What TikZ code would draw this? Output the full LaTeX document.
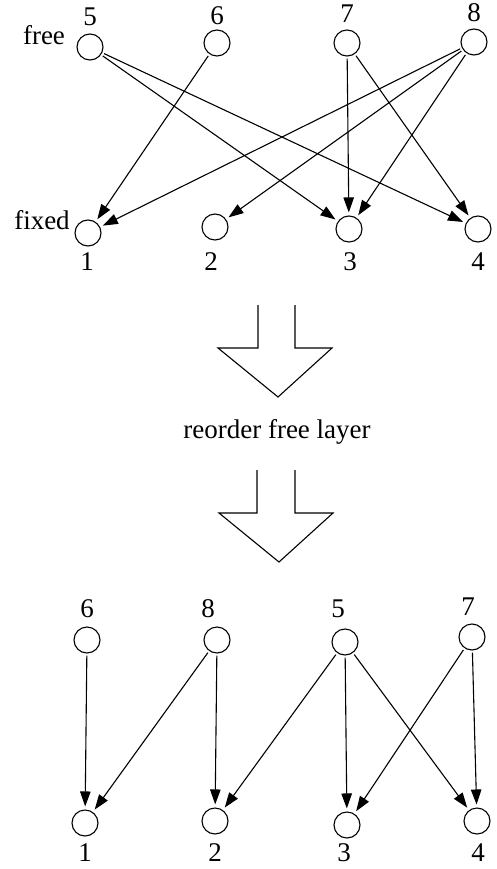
\documentclass[tikz,border=0pt]{standalone}
\usepackage{fontspec}
\setmainfont{Liberation Serif}
\usetikzlibrary{arrows.meta}
\begin{document}
\begin{tikzpicture}[x=1pt,y=-1pt,
  vtx/.style={circle,draw,line width=1.1pt,minimum size=26pt,inner sep=0pt},
  lbl/.style={anchor=base,inner sep=0pt,font=\fontsize{27}{31}\selectfont},
  edge/.style={line width=1.1pt,-{Triangle[length=15pt,width=10.5pt]},shorten <=2pt,shorten >=3pt},
  bigarrow/.style={line width=1.1pt,line join=miter}]
\useasboundingbox (0,0) rectangle (497,869);
% ---------- top graph ----------
\node[vtx] (t5) at (90,47) {};
\node[vtx] (t6) at (217,43) {};
\node[vtx] (t7) at (347,43) {};
\node[vtx] (t8) at (474,42) {};
\node[vtx] (t1) at (88,233) {};
\node[vtx] (t2) at (215,227) {};
\node[vtx] (t3) at (349,229) {};
\node[vtx] (t4) at (478,229) {};
\node[lbl] (l5) at (90,26) {5};
\node[lbl] (l6) at (217,25) {6};
\node[lbl] (l7) at (347,23) {7};
\node[lbl] (l8) at (474,22) {8};
\node[lbl] (lfree) at (44,45) {free};
\node[lbl] (lfixed) at (42,229) {fixed};
\node[lbl] (l1) at (87,270) {1};
\node[lbl] (l2) at (211,270) {2};
\node[lbl] (l3) at (350,270) {3};
\node[lbl] (l4) at (478,270) {4};
\draw[edge] (t5) -- (t3);
\draw[edge] (t5) -- (t4);
\draw[edge] (t6) -- (t1);
\draw[edge] (t7) -- (t3);
\draw[edge] (t7) -- (t4);
\draw[edge] (t8) -- (t1);
\draw[edge] (t8) -- (t2);
\draw[edge] (t8) -- (t3);
% ---------- big arrows ----------
\draw[bigarrow] (258,305) -- (258,348) -- (218,348) -- (278,397) -- (332,348) -- (295,348) -- (295,305);
\node[lbl] (reorder) at (277,438) {reorder free layer};
\draw[bigarrow] (257,470) -- (257,513) -- (219,513) -- (279,562) -- (333,513) -- (295,513) -- (295,470);
% ---------- bottom graph ----------
\node[vtx] (b6) at (87,640) {};
\node[vtx] (b8) at (217,640) {};
\node[vtx] (b5) at (345,642) {};
\node[vtx] (b7) at (472,637) {};
\node[vtx] (b1) at (85,823) {};
\node[vtx] (b2) at (215,821) {};
\node[vtx] (b3) at (347,825) {};
\node[vtx] (b4) at (477,821) {};
\node[lbl] (m6) at (87,617) {6};
\node[lbl] (m8) at (208,617) {8};
\node[lbl] (m5) at (338,617) {5};
\node[lbl] (m7) at (468,615) {7};
\node[lbl] (n1) at (85,861) {1};
\node[lbl] (n2) at (215,861) {2};
\node[lbl] (n3) at (344,861) {3};
\node[lbl] (n4) at (478,861) {4};
\draw[edge] (b6) -- (b1);
\draw[edge] (b8) -- (b1);
\draw[edge] (b8) -- (b2);
\draw[edge] (b5) -- (b2);
\draw[edge] (b5) -- (b3);
\draw[edge] (b5) -- (b4);
\draw[edge] (b7) -- (b3);
\draw[edge] (b7) -- (b4);
\end{tikzpicture}
\end{document}
